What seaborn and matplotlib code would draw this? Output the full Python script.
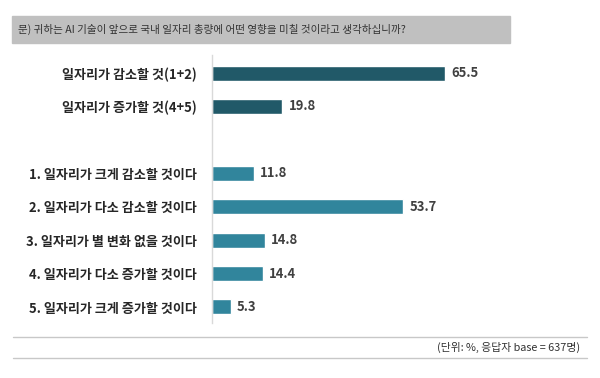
import pandas as pd
import matplotlib.pyplot as plt
import seaborn as sns
from matplotlib.patches import Rectangle

# data
labels = ["일자리가 감소할 것(1+2)", "일자리가 증가할 것(4+5)",
          "1. 일자리가 크게 감소할 것이다", "2. 일자리가 다소 감소할 것이다",
          "3. 일자리가 별 변화 없을 것이다", "4. 일자리가 다소 증가할 것이다",
          "5. 일자리가 크게 증가할 것이다"]
values = [65.5, 19.8, 11.8, 53.7, 14.8, 14.4, 5.3]
groups = ["합계", "합계", "세부", "세부", "세부", "세부", "세부"]
spacer = " "
order = labels[:2] + [spacer] + labels[2:]

title = "문) 귀하는 AI 기술이 앞으로 국내 일자리 총량에 어떤 영향을 미칠 것이라고 생각하십니까?"
footer = "(단위: %, 응답자 base = 637명)"

df = pd.DataFrame({"label": labels, "value": values, "group": groups})

sns.set_theme(style="white")
plt.rcParams['font.family'] = ['Noto Sans CJK KR', 'DejaVu Sans']

fig = plt.figure(figsize=(6, 3.78), dpi=100)
W, H = 600, 378

# title box
fig.patches.append(Rectangle((12 / W, 1 - 43 / H), 498 / W, 27 / H,
                             transform=fig.transFigure, color="#c0c0c0", zorder=0))
fig.text(18 / W, 1 - 29.5 / H, title, fontsize=7.6, color="#333333", va="center", ha="left")

# footer lines + text
for yy in [337, 358]:
    fig.add_artist(plt.Line2D([13 / W, 587 / W], [1 - yy / H, 1 - yy / H],
                              transform=fig.transFigure, color="#c8c8c8", lw=1))
fig.text(580 / W, 1 - 347.5 / H, footer, fontsize=7.8, color="#333333", va="center", ha="right")

ax = fig.add_axes([212 / W, 1 - 323 / H, 356 / W, 268 / H])
sns.barplot(data=df, x="value", y="label", hue="group", order=order,
            palette={"합계": "#215968", "세부": "#31859C"}, dodge=False,
            saturation=1, width=0.45, legend=False, ax=ax)

ax.set_xlim(0, 100)
ax.set_ylim(7.48, -0.54)
ax.set_xlabel("")
ax.set_ylabel("")
ax.set_xticks([])
for s in ["top", "right", "bottom"]:
    ax.spines[s].set_visible(False)
ax.spines["left"].set_color("#d9d9d9")
ax.spines["left"].set_linewidth(1)
ax.tick_params(axis="y", length=0, pad=11)
for t in ax.get_yticklabels():
    t.set_fontweight("bold")
    t.set_fontsize(9.4)
    t.set_color("#262626")

for lab, v in zip(labels, values):
    ax.text(v + 1.7, order.index(lab), f"{v:.1f}", va="center", ha="left",
            fontsize=9.4, fontweight="bold", color="#404040")

fig.savefig("out.png", dpi=100)
